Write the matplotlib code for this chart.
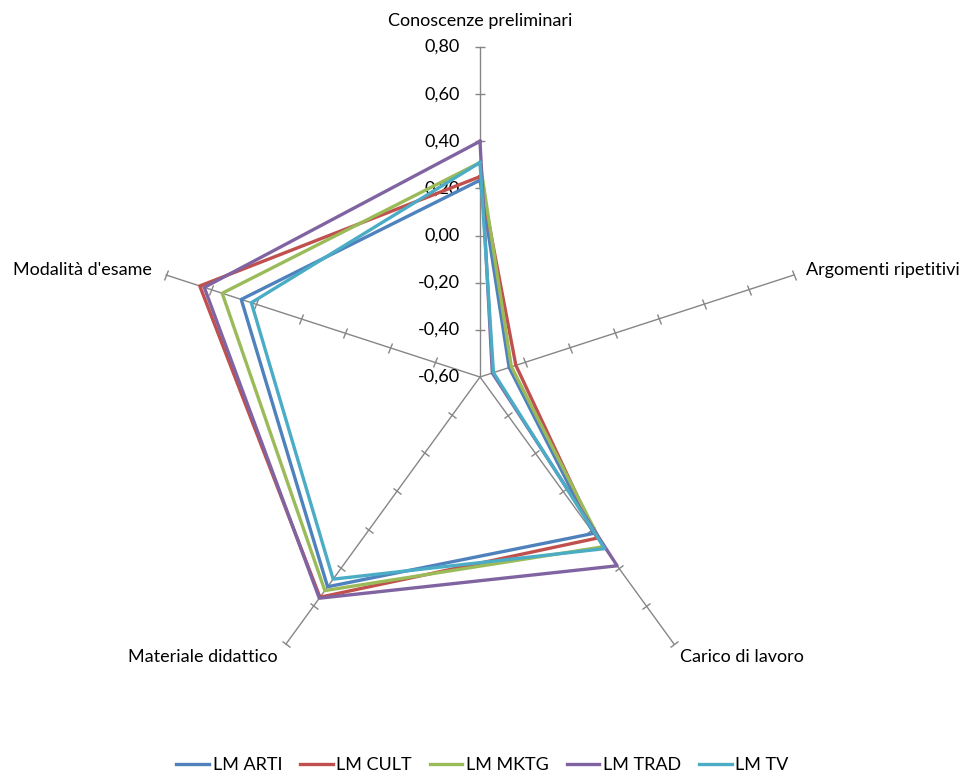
import numpy as np
import matplotlib
matplotlib.use("Agg")
import matplotlib.pyplot as plt
from matplotlib.markers import MarkerStyle
from matplotlib.transforms import Affine2D

plt.rcParams['font.family'] = ['Lato', 'DejaVu Sans']

categories = ["Conoscenze preliminari", "Argomenti ripetitivi", "Carico di lavoro",
              "Materiale didattico", "Modalità d'esame"]
series_names = ["LM ARTI", "LM CULT", "LM MKTG", "LM TRAD", "LM TV"]
lm_arti = [0.235, -0.47, 0.22, 0.50, 0.465]
lm_cult = [0.25, -0.44, 0.245, 0.555, 0.65]
lm_mktg = [0.31, -0.46, 0.29, 0.52, 0.55]
lm_trad = [0.40, -0.545, 0.39, 0.56, 0.63]
lm_tv = [0.31, -0.54, 0.30, 0.46, 0.42]
r_ticks = [-0.6, -0.4, -0.2, 0.0, 0.2, 0.4, 0.6, 0.8]
tick_labels = ["-0,60", "-0,40", "-0,20", "0,00", "0,20", "0,40", "0,60", "0,80"]

colors = ["#4F81BD", "#C0504D", "#9BBB59", "#8064A2", "#4BACC6"]
axis_col = "#868686"

fig = plt.figure(figsize=(9.65, 7.74), dpi=100)
# center at (480,377) px, radius 330 px
ax = fig.add_axes([150 / 965, 1 - 707 / 774, 660 / 965, 660 / 774], projection='polar')
ax.set_theta_offset(np.pi / 2)
ax.set_theta_direction(-1)
ax.set_ylim(-0.6, 0.8)
ax.set_axis_off()

n = len(categories)
theta = np.arange(n) * 2 * np.pi / n

# spokes with cross tick marks
for i, t in enumerate(theta):
    ax.plot([t, t], [-0.6, 0.8], color=axis_col, lw=1, clip_on=False, zorder=1)
    rot = -np.degrees(t)  # screen rotation of the perpendicular tick
    m = MarkerStyle('_', transform=Affine2D().rotate_deg(rot))
    ax.plot([t] * (len(r_ticks) - 1), r_ticks[1:], ls='none', marker=m,
            markersize=7, markeredgecolor=axis_col, markeredgewidth=1,
            clip_on=False, zorder=1)

# value labels on the top spoke
for r, lab in zip(r_ticks, tick_labels):
    ax.annotate(lab, xy=(0, r), xytext=(-20, 0), textcoords='offset pixels',
                ha='right', va='center', fontsize=13, color='black')

# category labels
offsets = [((0, 18), 'center', 'bottom'),
           ((12, 5), 'left', 'center'),
           ((6, -5), 'left', 'top'),
           ((-8, -5), 'right', 'top'),
           ((-14, 5), 'right', 'center')]
for t, cat, (off, ha, va) in zip(theta, categories, offsets):
    ax.annotate(cat, xy=(t, 0.8), xytext=off, textcoords='offset pixels',
                ha=ha, va=va, fontsize=13, color='black')

all_series = [lm_arti, lm_cult, lm_mktg, lm_trad, lm_tv]
tt = np.append(theta, theta[0])
handles = []
for vals, name, c in zip(all_series, series_names, colors):
    vv = vals + vals[:1]
    h, = ax.plot(tt, vv, color=c, lw=2.4, label=name, clip_on=False, zorder=3)
    handles.append(h)

fig.legend(handles=handles, loc='center', bbox_to_anchor=(0.5, 1 - 765 / 774),
           ncol=5, frameon=False, fontsize=13, handlelength=1.8,
           handletextpad=0.2, columnspacing=1.0, borderaxespad=0)

fig.savefig("out.png", dpi=100, facecolor='white')
